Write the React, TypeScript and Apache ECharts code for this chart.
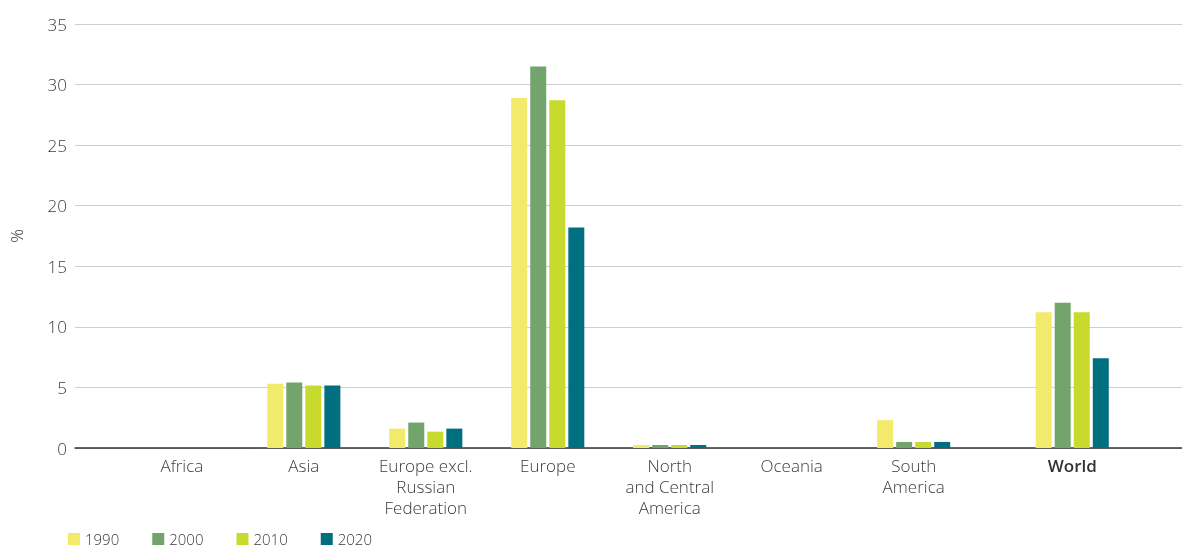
import React, { useEffect, useRef } from "react";
import * as echarts from "echarts";

const categories = [
  "Africa",
  "Asia",
  "Europe excl.\nRussian\nFederation",
  "Europe",
  "North\nand Central\nAmerica",
  "Oceania",
  "South\nAmerica",
  "World",
];
// World is set slightly apart from the regions
const categoryPositions = [0, 1, 2, 3, 4, 5, 6, 7.3];
const years = ["1990", "2000", "2010", "2020"];
const v1990 = [0, 5.3, 1.6, 28.9, 0.25, 0, 2.3, 11.2];
const v2000 = [0, 5.4, 2.1, 31.5, 0.25, 0, 0.5, 12.0];
const v2010 = [0, 5.15, 1.35, 28.7, 0.25, 0, 0.5, 11.2];
const v2020 = [0, 5.15, 1.6, 18.2, 0.25, 0, 0.5, 7.4];
const seriesValues = [v1990, v2000, v2010, v2020];
const colors = ["#f2ea6a", "#72a46c", "#c8da2e", "#006f80"];
const yTicks = [0, 5, 10, 15, 20, 25, 30, 35];

const FONT = "'Open Sans', sans-serif";

export default function App() {
  const ref = useRef<HTMLDivElement>(null);
  useEffect(() => {
    if (!ref.current) return;
    const chart = echarts.init(ref.current, undefined, { renderer: "svg" });
    chart.setOption({
      animation: false,
      textStyle: { fontFamily: FONT },
      grid: { left: 69, right: 0, top: 24, bottom: 103, containLabel: false },
      legend: {
        left: 68,
        top: 530,
        padding: 0,
        itemWidth: 12,
        itemHeight: 12,
        itemGap: 33,
        icon: "rect",
        data: years,
        textStyle: { fontFamily: FONT, fontSize: 15, color: "#3c3c3c", fontWeight: 300, lineHeight: 18 },
      },
      xAxis: {
        type: "value",
        min: -0.876,
        max: 8.2,
        splitLine: { show: false },
        axisTick: { show: false },
        axisLine: { show: true, lineStyle: { color: "#333", width: 1.5 } },
        axisLabel: {
          customValues: categoryPositions,
          margin: 7,
          fontFamily: FONT,
          fontSize: 17,
          fontWeight: 300,
          color: "#3c3c3c",
          lineHeight: 21,
          verticalAlign: "top",
          formatter: (v: number) => {
            const i = categoryPositions.findIndex((p) => Math.abs(p - v) < 1e-6);
            if (i < 0) return "";
            return i === categories.length - 1 ? "{b|" + categories[i] + "}" : categories[i];
          },
          rich: {
            b: { fontFamily: FONT, fontSize: 17, fontWeight: 600, color: "#333", lineHeight: 21 },
          },
        },
      },
      yAxis: {
        type: "value",
        min: 0,
        max: 35,
        interval: 5,
        name: "%",
        nameLocation: "middle",
        nameRotate: 90,
        nameGap: 50,
        nameTextStyle: { fontFamily: FONT, fontSize: 17, color: "#3c3c3c", fontWeight: 300 },
        axisLine: { show: false },
        axisTick: { show: false },
        splitLine: { lineStyle: { color: "#cfcfcf", width: 1 } },
        axisLabel: {
          customValues: yTicks,
          margin: 8,
          fontFamily: FONT,
          fontSize: 17,
          fontWeight: 300,
          color: "#3c3c3c",
        },
      },
      series: years.map((y, si) => ({
        name: y,
        type: "bar",
        barWidth: 16,
        barGap: "19%",
        itemStyle: { color: colors[si] },
        data: seriesValues[si].map((val, i) => [categoryPositions[i], val]),
      })),
    });
    return () => chart.dispose();
  }, []);
  return <div ref={ref} style={{ position: "fixed", left: 0, top: 0, width: 1182, height: 551 }} />;
}
